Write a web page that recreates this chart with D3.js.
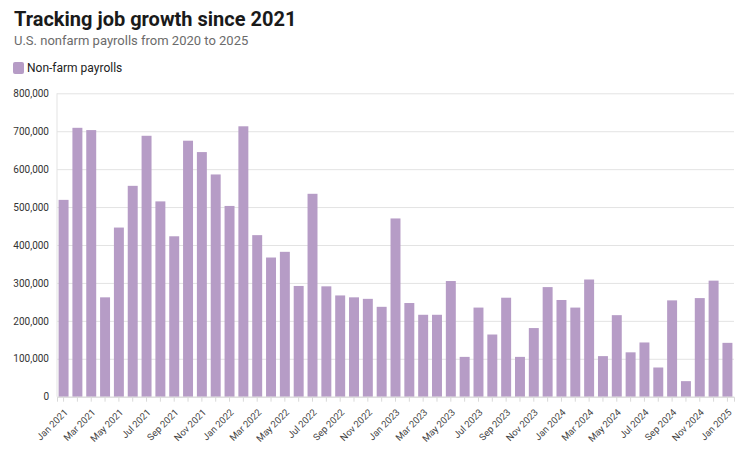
<!DOCTYPE html>
<html><head><meta charset="utf-8">
<script src="https://cdn.jsdelivr.net/npm/d3@7"></script>
<style>
body{margin:0;background:#fff;font-family:Roboto,"Noto Sans",sans-serif;}
</style></head>
<body><svg id="c" width="756" height="450"></svg>
<script>
const months = ["Jan 2021","Feb 2021","Mar 2021","Apr 2021","May 2021","Jun 2021","Jul 2021","Aug 2021","Sep 2021","Oct 2021","Nov 2021","Dec 2021",
"Jan 2022","Feb 2022","Mar 2022","Apr 2022","May 2022","Jun 2022","Jul 2022","Aug 2022","Sep 2022","Oct 2022","Nov 2022","Dec 2022",
"Jan 2023","Feb 2023","Mar 2023","Apr 2023","May 2023","Jun 2023","Jul 2023","Aug 2023","Sep 2023","Oct 2023","Nov 2023","Dec 2023",
"Jan 2024","Feb 2024","Mar 2024","Apr 2024","May 2024","Jun 2024","Jul 2024","Aug 2024","Sep 2024","Oct 2024","Nov 2024","Dec 2024",
"Jan 2025"];
const payrolls = [519000,709000,703000,262000,446000,556000,688000,515000,423000,675000,645000,586000,
503000,713000,426000,367000,382000,292000,535000,291000,267000,262000,258000,237000,
470000,247000,216000,216000,305000,105000,235000,164000,261000,105000,181000,289000,
255000,235000,309000,107000,215000,117000,143000,77000,254000,41000,260000,306000,
142000];
const yTicks = [0,100000,200000,300000,400000,500000,600000,700000,800000];

const svg = d3.select("#c");
const L = 57, R = 734, T = 93.3, B = 396.7;
const x = d3.scaleBand().domain(months).range([L, R]).paddingInner(0.28).paddingOuter(0.115);
const y = d3.scaleLinear().domain([0, 800000]).range([B, T]);

svg.append("text").attr("x",14).attr("y",26).attr("font-size",20).attr("font-weight",700)
  .attr("fill","#1a1a1a").text("Tracking job growth since 2021");
svg.append("text").attr("x",14).attr("y",45).attr("font-size",13).attr("fill","#6b6b6b")
  .text("U.S. nonfarm payrolls from 2020 to 2025");
svg.append("rect").attr("x",13).attr("y",62).attr("width",11).attr("height",12).attr("rx",2).attr("fill","#b69cc6");
svg.append("text").attr("x",27).attr("y",72).attr("font-size",12).attr("fill","#222").text("Non-farm payrolls");

// grid
const yAxis = svg.append("g").attr("transform",`translate(${L},0)`)
  .call(d3.axisLeft(y).tickValues(yTicks).tickSize(-(R-L)).tickPadding(8).tickFormat(d3.format(",")));
yAxis.select(".domain").remove();
yAxis.selectAll(".tick line").attr("stroke","#e3e3e3");
yAxis.selectAll(".tick text").attr("font-size",10).attr("fill","#333").attr("font-family","Roboto");

svg.append("line").attr("x1",L).attr("x2",L).attr("y1",T).attr("y2",B).attr("stroke","#e3e3e3");

svg.append("g").selectAll("rect").data(payrolls).join("rect")
  .attr("x",(d,i)=>x(months[i])).attr("width",x.bandwidth())
  .attr("y",d=>y(d)).attr("height",d=>B-y(d)).attr("fill","#b69cc6");

const xAxis = svg.append("g").attr("transform",`translate(0,${B})`)
  .call(d3.axisBottom(x).tickSize(5).tickPadding(4).tickFormat((d,i)=> i%2===0 ? d : ""));
xAxis.select(".domain").attr("stroke","#d9d9d9");
xAxis.selectAll(".tick line").attr("stroke","#d9d9d9");
xAxis.selectAll(".tick text").attr("font-size",9.5).attr("fill","#444").attr("font-family","Roboto")
  .attr("text-anchor","end").attr("x",0).attr("y",0).attr("dx",0).attr("dy","0.35em")
  .attr("transform","translate(2.5,14) rotate(-45)");
</script></body></html>
